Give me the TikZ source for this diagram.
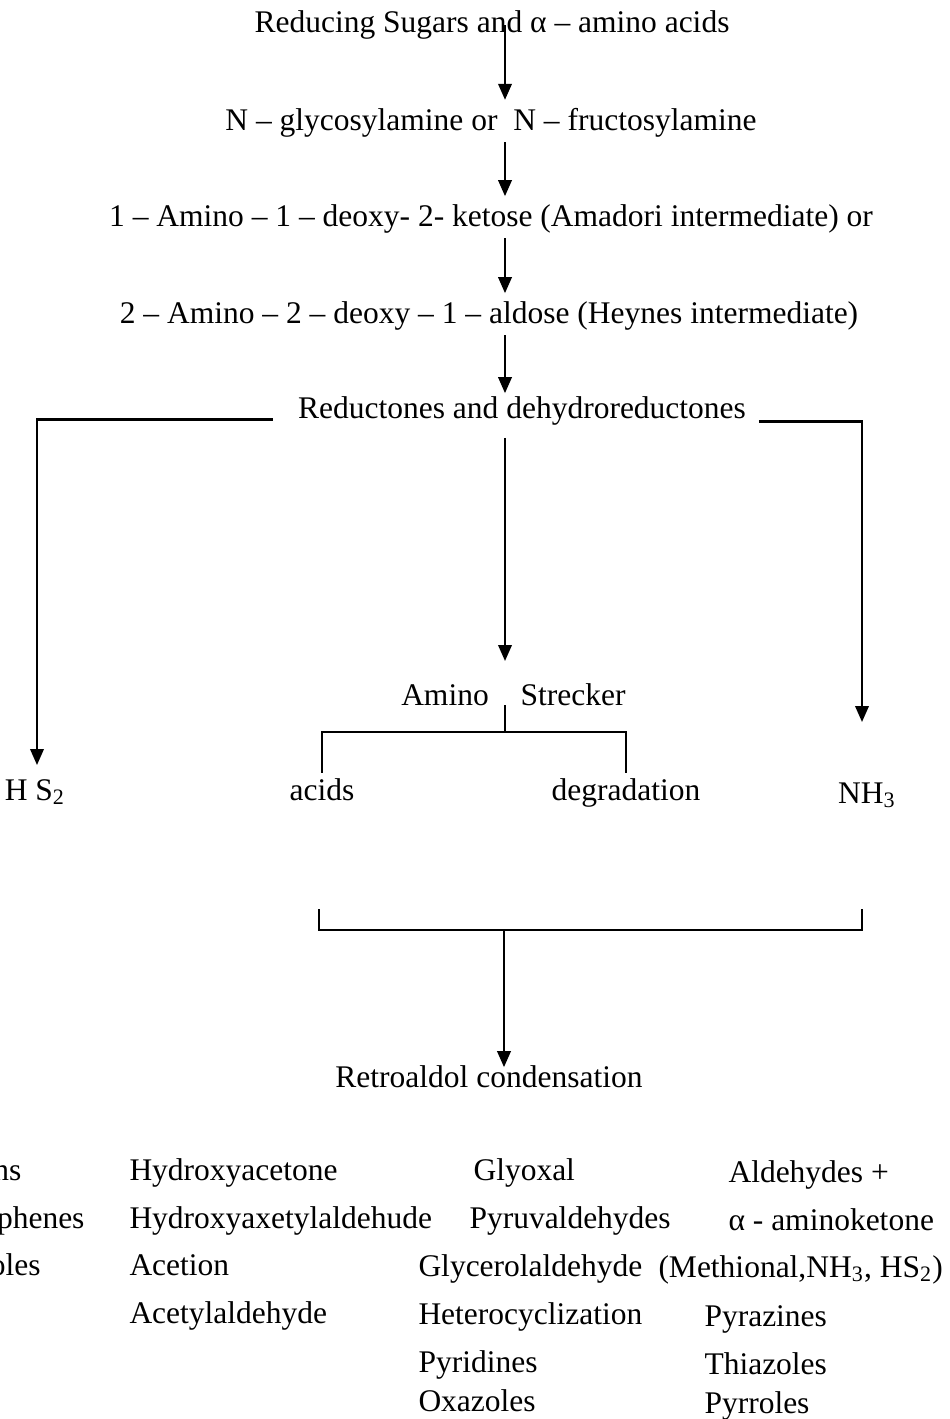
\documentclass[tikz,border=0pt]{standalone}
\usepackage{fontspec}
\setmainfont{Liberation Serif}
\usetikzlibrary{arrows.meta}
\tikzset{
    txt/.style = {inner sep=2pt, anchor=base},
    col/.style = {inner sep=2pt, anchor=base west},
    flow/.style = {-{Triangle[length=6.4pt,width=5.4pt]}, line width=0.85pt},
    link/.style = {line width=0.85pt},
}

\begin{document}
\begin{tikzpicture}[x=0.4pt, y=-0.4pt, font=\fontsize{12.6}{15}\selectfont]
\useasboundingbox (0,0) rectangle (949,1419);

\coordinate (spine) at (505,0);

\node[txt] (sugars) at (492,33) {Reducing Sugars and α -- amino acids};
\node[txt] (glyco) at (491,130) {N -- glycosylamine or\ \ N -- fructosylamine};
\node[txt] (amadori) at (491,226) {1 -- Amino -- 1 -- deoxy- 2- ketose (Amadori intermediate) or};
\node[txt] (heynes) at (489,323) {2 -- Amino -- 2 -- deoxy -- 1 -- aldose (Heynes intermediate)};
\node[txt] (reduct) at (522,418) {Reductones and dehydroreductones};

\node[txt] (amino) at (445,705) {Amino};
\node[txt] (strecker) at (573,705) {Strecker};
\node[txt] (acids) at (322,800) {acids};
\node[txt] (degr) at (626,800) {degradation};
\node[txt] (hs) at (35,800) {H S\textsubscript{2}};
\node[txt] (nh) at (867,803) {NH\textsubscript{3}};
\node[txt] (retro) at (489,1087) {Retroaldol condensation};

\coordinate (htip) at (37,765);
\coordinate (ntip) at (862,722);
\coordinate (mtip) at (505,661);
\coordinate (join) at (505,732);
\coordinate (bl) at (319,909);
\coordinate (br) at (862,909);
\coordinate (bj) at (504,930);

\draw[flow] (sugars.center -| spine) -- ([yshift=1pt]glyco.north -| spine);
\draw[flow] (glyco.south -| spine) -- ([yshift=1pt]amadori.north -| spine);
\draw[flow] (amadori.south -| spine) -- ([yshift=1pt]heynes.north -| spine);
\draw[flow] (heynes.south -| spine) -- ([yshift=-1pt]reduct.north -| spine);
\draw[flow] ([yshift=-3pt]reduct.south -| spine) -- (mtip);
\draw[flow] ([xshift=-8pt,yshift=-0.6pt]reduct.base west) -| (htip);
\draw[flow] ([xshift=3pt,yshift=-1.4pt]reduct.base east) -| (ntip);

\draw[link] (amino.base -| join) -- (join);
\draw[link] (acids.north) -- (acids.north |- join) -- (degr.north |- join) -- (degr.north);
\draw[link] (bl) -- (bl |- bj) -- (br |- bj) -- (br);
\draw[flow] (bj) -- ([yshift=-3pt]retro.north -| bj);

\node[inner sep=2pt, anchor=base east] (c1a) at (27,1180) {ns};
\node[inner sep=2pt, anchor=base east] (c1b) at (90,1228) {phenes};
\node[inner sep=2pt, anchor=base east] (c1c) at (46,1275) {oles};

\node[col] (c2a) at (124,1180) {Hydroxyacetone};
\node[col] (c2b) at (124,1228) {Hydroxyaxetylaldehude};
\node[col] (c2c) at (124,1275) {Acetion};
\node[col] (c2d) at (124,1323) {Acetylaldehyde};

\node[col] (c3a) at (468,1180) {Glyoxal};
\node[col] (c3b) at (464,1228) {Pyruvaldehydes};
\node[col] (c3c) at (413,1276) {Glycerolaldehyde};
\node[col] (c3d) at (413,1324) {Heterocyclization};
\node[col] (c3e) at (413,1372) {Pyridines};
\node[col] (c3f) at (413,1411) {Oxazoles};

\node[col] (c4a) at (723,1182) {Aldehydes +};
\node[col] (c4b) at (723,1230) {α - aminoketone};
\node[col] (c4c) at (653,1277) {(Methional,NH\textsubscript{3}, HS\textsubscript{2})};
\node[col] (c4d) at (699,1326) {Pyrazines};
\node[col] (c4e) at (699,1374) {Thiazoles};
\node[col] (c4f) at (699,1413) {Pyrroles};
\end{tikzpicture}
\end{document}
